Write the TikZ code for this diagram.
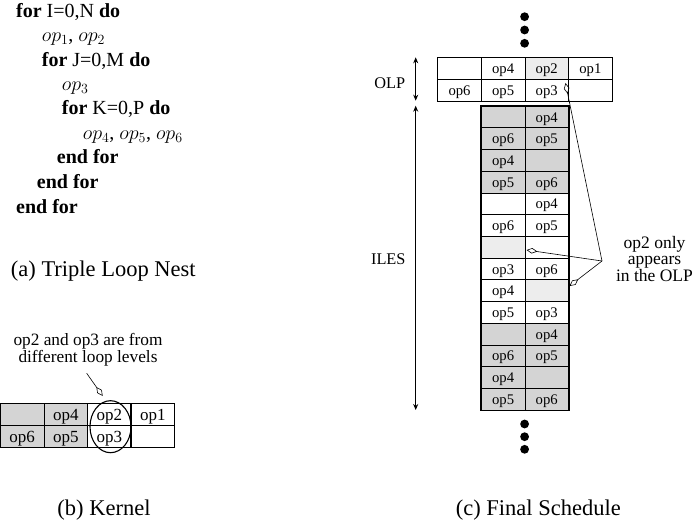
\RequirePackage{fix-cm}
\documentclass[tikz,border=0pt]{standalone}
\usepackage{fontspec}
\setmainfont{Liberation Serif}
\usetikzlibrary{arrows.meta,shapes.geometric}
\definecolor{dk}{gray}{0.83}
\definecolor{lt}{gray}{0.93}
\tikzset{
 cell/.style={draw, line width=0.7pt, minimum width=43.6pt, minimum height=21.7pt, inner sep=0pt, anchor=north west, text height=10.3pt, text depth=0pt, font=\fontsize{14.7}{16}\selectfont},
 kcell/.style={cell, text height=11.7pt, font=\fontsize{17}{18}\selectfont},
 ann/.style={-{Diamond[open,length=11pt,width=5.5pt]}, line width=0.6pt},
 dimarrow/.style={{Stealth[length=6pt,width=5pt]}-{Stealth[length=6pt,width=5pt]}, line width=0.8pt},
 blob/.style={circle, fill=black, inner sep=0pt, minimum size=8.8pt},
 code/.style={anchor=base west, inner sep=0pt, font=\fontsize{20}{24}\selectfont},
 captext/.style={anchor=base, inner sep=0pt, font=\fontsize{22.5}{26}\selectfont},
 lab/.style={anchor=base, inner sep=0pt, font=\fontsize{16.3}{18}\selectfont},
 thickborder/.style={line width=1.2pt},
}
\begin{document}
\begin{tikzpicture}[x=1pt,y=-1pt]
\useasboundingbox (0,0) rectangle (694,524);

% (a) loop nest
\node[code] (c1) at (16,17.3) {\textbf{for} I=0,N \textbf{do}};
\node[code] (c2) at (41.7,41.7) {$op_1$, $op_2$};
\node[code] (c3) at (41.7,66.7) {\textbf{for} J=0,M \textbf{do}};
\node[code] (c4) at (61.7,90.7) {$op_3$};
\node[code] (c5) at (61.7,115) {\textbf{for} K=0,P \textbf{do}};
\node[code] (c6) at (82.7,140) {$op_4$, $op_5$, $op_6$};
\node[code] (c7) at (56.7,163.3) {\textbf{end for}};
\node[code] (c8) at (36.7,188.3) {\textbf{end for}};
\node[code] (c9) at (16,213.3) {\textbf{end for}};
\node[captext] (capa) at (103.3,276) {(a) Triple Loop Nest};

% (b) kernel
\node[align=center, inner sep=0pt, font=\fontsize{17.3}{16.6}\selectfont] (knote) at (88,350) {op2 and op3 are from\\different loop levels};
\node[kcell, fill=dk] (k1a) at (0,403.3) {};
\node[kcell, fill=dk] (k1b) at (43.6,403.3) {op4};
\node[kcell, fill=white] (k1c) at (87.2,403.3) {op2};
\node[kcell, fill=white] (k1d) at (130.8,403.3) {op1};
\node[kcell, fill=dk] (k2a) at (0,425) {op6};
\node[kcell, fill=dk] (k2b) at (43.6,425) {op5};
\node[kcell, fill=white] (k2c) at (87.2,425) {op3};
\node[kcell, fill=white] (k2d) at (130.8,425) {};
\draw[thickborder] (k1d.north west) -- (k2d.south west);
\node[draw, ellipse, line width=1.1pt, minimum width=41pt, minimum height=52pt, inner sep=0pt] (ell) at (110.5,426.7) {};
\coordinate (kn0) at (86.7,373.3);
\coordinate (kn1) at (102.7,396);
\draw[ann] (kn0) -- (kn1);
\node[captext] (capb) at (104,515) {(b) Kernel};

% (c) final schedule
\node[blob] (u1) at (524.6,16.7) {};
\node[blob] (u2) at (524.6,30) {};
\node[blob] (u3) at (524.6,43.3) {};

\node[cell, fill=white] (P1a) at (437.4,57.3) {};
\node[cell, fill=white] (P1b) at (481,57.3) {op4};
\node[cell, fill=lt] (P1c) at (524.6,57.3) {op2};
\node[cell, fill=white] (P1d) at (568.2,57.3) {op1};
\node[cell, fill=white] (P2a) at (437.4,79) {op6};
\node[cell, fill=white] (P2b) at (481,79) {op5};
\node[cell, fill=white] (P2c) at (524.6,79) {op3};
\node[cell, fill=white] (P2d) at (568.2,79) {};
\draw[thickborder] (P1d.north west) -- (P2d.south west);

\foreach \r/\fa/\ta/\fb/\tb in {
 1/dk//dk/op4, 2/dk/op6/dk/op5, 3/dk/op4/dk/, 4/dk/op5/dk/op6,
 5/white//white/op4, 6/white/op6/white/op5, 7/lt//white/, 8/white/op3/white/op6,
 9/white/op4/lt/, 10/white/op5/white/op3,
 11/dk//dk/op4, 12/dk/op6/dk/op5, 13/dk/op4/dk/, 14/dk/op5/dk/op6}{
 \node[cell, fill=\fa] (L\r) at (481,{105.7+21.72*(\r-1)}) {\ta};
 \node[cell, fill=\fb] (R\r) at (524.6,{105.7+21.72*(\r-1)}) {\tb};
}
\draw[thickborder] (L1.north west) rectangle (R14.south east);

\node[blob] (v1) at (524.6,424) {};
\node[blob] (v2) at (524.6,436.7) {};
\node[blob] (v3) at (524.6,449.3) {};

\coordinate (olpT) at (415.7,57.3);
\coordinate (olpB) at (415.7,100.7);
\coordinate (ilesT) at (415.7,105.7);
\coordinate (ilesB) at (415.7,410);
\draw[dimarrow] (olpT) -- (olpB);
\draw[dimarrow] (ilesT) -- (ilesB);
\node[lab] (olp) at (389.7,88.3) {OLP};
\node[lab] (iles) at (388.3,264) {ILES};

\node[align=center, inner sep=0pt, font=\fontsize{17.5}{15.8}\selectfont] (note) at (654.5,259) {op2 only\\appears\\in the OLP};
\coordinate (apex) at (602,261);
\coordinate (t1) at (565.5,83);
\coordinate (t2) at (526.5,250);
\coordinate (t3) at (569.5,286);
\draw[ann] (apex) -- (t1);
\draw[ann] (apex) -- (t2);
\draw[ann] (apex) -- (t3);

\node[captext] (capc) at (538.3,515) {(c) Final Schedule};
\end{tikzpicture}
\end{document}
